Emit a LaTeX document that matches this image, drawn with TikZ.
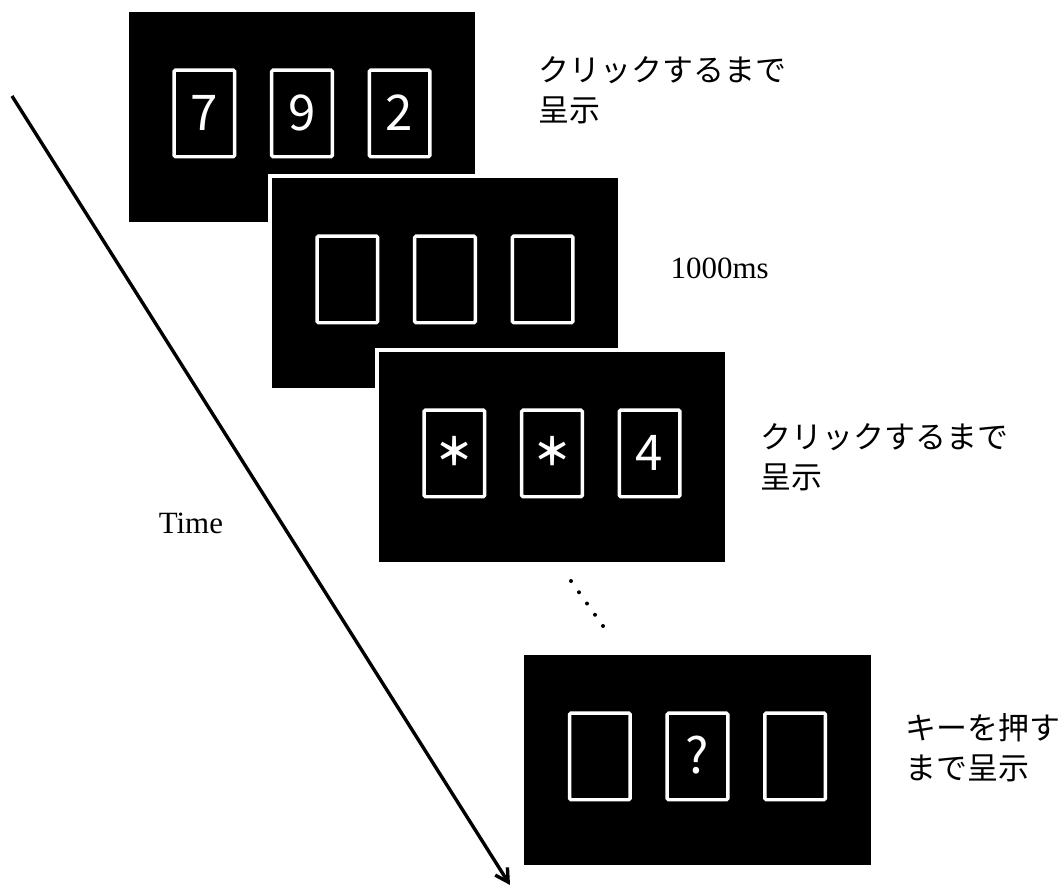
\documentclass[tikz,border=0pt]{standalone}
\usepackage{fontspec}
\setmainfont{Liberation Serif}
\newfontfamily\jpfont{Noto Sans CJK JP}
\usetikzlibrary{arrows.meta,positioning}

% masked digit
\newcommand{\hidden}{\raisebox{3.5pt}{\fontsize{27}{30}\selectfont\bfseries ＊}}

\begin{document}
\begin{tikzpicture}[
  x=0.025cm, y=-0.025cm,
  node distance=0.84cm,
  screen/.style={rectangle,fill=black,draw=white,line width=0.08cm,
                 minimum width=8.75cm,minimum height=5.35cm,inner sep=0pt},
  card/.style={rectangle,draw=white,line width=0.085cm,rounded corners=1pt,
               minimum width=1.515cm,minimum height=2.165cm,inner sep=0pt,
               text height=24.9pt,text depth=0pt,
               text=white,font=\jpfont\fontsize{35}{40}\selectfont},
  note/.style={font=\jpfont\fontsize{22}{28.5}\selectfont,align=left,inner sep=0pt},
  dur/.style={font=\fontsize{22}{26}\selectfont,inner sep=0pt},
  arrow/.style={-{Straight Barb[length=0.32cm,width=0.36cm]},line width=0.085cm},
  dots/.style={line width=0.1cm,line cap=round,dash pattern=on 0pt off 0.345cm},
]
  \useasboundingbox (0,0) rectangle (1059,886);

  % the four screens, back to front
  \node[screen] (s1) at (302,117) {};
  \node[screen] (s2) at (445,283) {};
  \node[screen] (s3) at (552,457) {};
  \node[screen] (s4) at (697.5,760) {};

  % three cards on each screen
  \foreach \s/\a/\b/\c in {s1/7/9/2, s2/{}/{}/{}, s3/\hidden/\hidden/4, s4/{}/?/{}}{
    \node[card] (\s b) at ([yshift=0.09cm]\s.center) {\b};
    \node[card,left=of \s b]  (\s a) {\a};
    \node[card,right=of \s b] (\s c) {\c};
  }

  \node[note,right=1.5cm of s1,yshift=0.68cm] (n1) {クリックするまで\\呈示};
  \node[dur,right=1.22cm of s2,yshift=0.37cm] (n2) {1000ms};
  \node[note,right=0.8cm of s3]               (n3) {クリックするまで\\呈示};
  \node[note,right=0.78cm of s4,yshift=0.3cm] (n4) {キーを押す\\まで呈示};

  % time axis
  \coordinate (t0) at (12,96);
  \coordinate (t1) at (510,885);
  \draw[arrow] (t0) -- (t1) node[pos=0.542,left=1.43cm,dur] (tlab) {Time};

  \coordinate (d0) at (571,581);
  \coordinate (d1) at (603,626);
  \draw[dots] (d0) -- (d1);
\end{tikzpicture}
\end{document}
